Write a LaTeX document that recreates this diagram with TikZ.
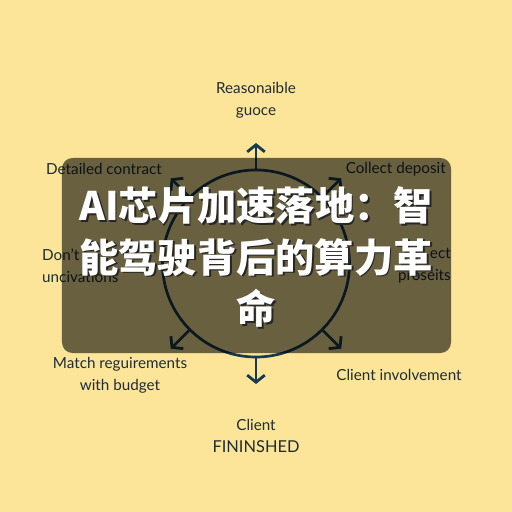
\documentclass[tikz,border=0pt]{standalone}
\usepackage{fontspec}
\setmainfont{Lato}
\newfontfamily\cjk{Noto Sans CJK SC}[BoldFont={Noto Sans CJK SC Black}]
\definecolor{cyclebg}  {RGB}{252,229,152}
\definecolor{cycleink} {RGB}{24,58,78}
\definecolor{cycletext}{RGB}{30,44,52}
\usetikzlibrary{arrows.meta,positioning,calc}
\newcommand\shadowline[1]{\makebox[0pt][l]{\raisebox{-1.6pt}{\hspace{1.6pt}\textcolor{black!85}{#1}}}#1}
\tikzset{
  lbl/.style={text=cycletext,font=\fontsize{13}{18.5}\selectfont,
              align=center,inner sep=0pt},
  arr/.style={-{Straight Barb[length=6pt,width=15pt]},line width=2.4pt,
              draw=cycleink},
  veil/.style={rectangle,rounded corners=9pt,fill=black,fill opacity=0.58,
               minimum width=11.67cm,minimum height=5.85cm,inner sep=0pt},
  headline/.style={font=\cjk\bfseries\fontsize{33.5}{44}\selectfont,
                   text=white,align=center,inner sep=0pt},
}

\begin{document}
\begin{tikzpicture}[x=0.03cm,y=-0.03cm]
  \fill[cyclebg] (0,0) rectangle (512,512);
  \useasboundingbox (0,0) rectangle (512,512);

  % cycle with outward arrows
  \node[circle,draw=cycleink,line width=2.3pt,minimum size=5.61cm,
        inner sep=0pt] (hub) at (256,263.5) {};
  \foreach \a/\t in {90/tipN, 135/tipNW, 45/tipNE, 225/tipSW, 315/tipSE, 270/tipS}{
    \coordinate (\t) at ($(hub.center)!1.27!(hub.\a)$);
    \draw[arr] (hub.\a) -- (\t);
  }

  % labels
  \node[lbl] (reason) at (256,100) {Reasonaible\\guoce};
  \node[lbl,anchor=west] (contract) at (46,169) {Detailed contract};
  \node[lbl,anchor=east] (deposit) at (446,169) {Collect deposit};
  \node[lbl,anchor=west,align=left] (dont) at (42,266) {Don't\\uncivations};
  \node[lbl,anchor=east,align=right] (proseits) at (451,266) {ect\\proseits};
  \node[lbl] (match) at (120,375) {Match reguirements\\with budget};
  \node[lbl] (involve) at (399,375) {Client involvement};
  \node[lbl] (client) at (256,436) {Client\\{\fontsize{14}{19}\selectfont FININSHED}};

  % overlay and title
  \node[veil] (cover) at (256.5,255.5) {};
  \node[headline] (head) at (256,258)
    {\shadowline{AI芯片加速落地：智}\\\shadowline{能驾驶背后的算力革}\\\shadowline{命}};
\end{tikzpicture}
\end{document}
